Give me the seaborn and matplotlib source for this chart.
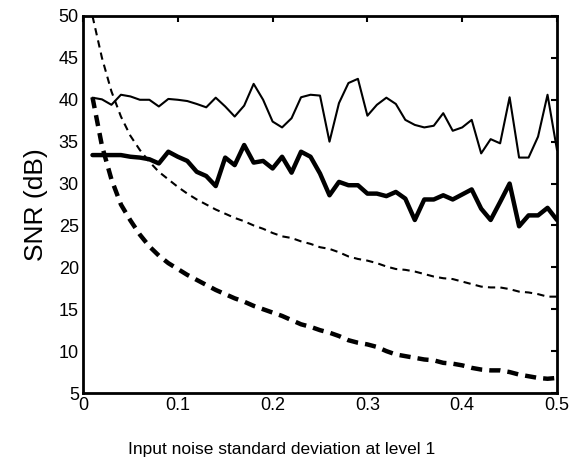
import numpy as np
import pandas as pd
import matplotlib
matplotlib.use('Agg')
import matplotlib.pyplot as plt
import seaborn as sns

# noise levels (x axis)
noise_std = [round(0.01 * i, 2) for i in range(1, 51)]

# thin solid curve
snr_thin_solid = [40.25, 40.05, 39.4, 40.6, 40.4, 40.0, 40.0, 39.2, 40.1, 40.0,
                  39.85, 39.5, 39.1, 40.25, 39.2, 38.0, 39.3, 41.9, 40.0, 37.4,
                  36.7, 37.8, 40.3, 40.6, 40.5, 35.0, 39.6, 42.0, 42.5, 38.1,
                  39.4, 40.25, 39.5, 37.6, 37.0, 36.7, 36.9, 38.4, 36.3, 36.7,
                  37.6, 33.6, 35.3, 34.8, 40.3, 33.1, 33.1, 35.6, 40.6, 34.0]

# thick solid curve
snr_thick_solid = [33.4, 33.4, 33.4, 33.4, 33.2, 33.1, 32.9, 32.4, 33.8, 33.2,
                   32.7, 31.4, 30.9, 29.7, 33.1, 32.2, 34.6, 32.5, 32.7, 31.8,
                   33.2, 31.3, 33.8, 33.2, 31.2, 28.6, 30.2, 29.8, 29.8, 28.8,
                   28.8, 28.5, 29.0, 28.2, 25.65, 28.1, 28.1, 28.6, 28.1, 28.7,
                   29.3, 27.0, 25.65, 27.8, 30.0, 24.9, 26.2, 26.2, 27.1, 25.65]

# thin dashed curve
snr_thin_dashed = [50.0, 45.0, 41.0, 38.0, 35.7, 34.0, 32.6, 31.4, 30.5, 29.6,
                   28.8, 28.1, 27.5, 26.9, 26.4, 25.9, 25.5, 25.0, 24.6, 24.1,
                   23.7, 23.5, 23.1, 22.8, 22.4, 22.2, 21.8, 21.3, 21.0, 20.8,
                   20.5, 20.1, 19.8, 19.7, 19.5, 19.2, 18.9, 18.7, 18.6, 18.3,
                   18.0, 17.7, 17.6, 17.6, 17.4, 17.1, 17.0, 16.8, 16.5, 16.5]

# thick dashed curve
snr_thick_dashed = [40.3, 34.5, 30.5, 27.5, 25.6, 23.9, 22.5, 21.4, 20.5, 19.8,
                    19.1, 18.5, 17.9, 17.3, 16.8, 16.3, 15.9, 15.4, 15.0, 14.6,
                    14.2, 13.7, 13.2, 12.9, 12.5, 12.2, 11.8, 11.3, 11.0, 10.8,
                    10.5, 10.0, 9.6, 9.4, 9.2, 9.0, 8.9, 8.6, 8.5, 8.3,
                    8.0, 7.8, 7.7, 7.7, 7.5, 7.2, 7.0, 6.8, 6.7, 6.8]

x_ticks = [0, 0.1, 0.2, 0.3, 0.4, 0.5]
x_tick_labels = ['0', '0.1', '0.2', '0.3', '0.4', '0.5']
y_ticks = [5, 10, 15, 20, 25, 30, 35, 40, 45, 50]

sns.set_style('white')
plt.rcParams['font.family'] = ['Liberation Sans', 'DejaVu Sans']
plt.rcParams['text.color'] = 'black'
plt.rcParams['axes.labelcolor'] = 'black'

df = pd.DataFrame({
    'noise': noise_std,
    'thin_solid': snr_thin_solid,
    'thick_solid': snr_thick_solid,
    'thin_dashed': snr_thin_dashed,
    'thick_dashed': snr_thick_dashed,
})

fig = plt.figure(figsize=(5.74, 4.61), dpi=100)
ax = fig.add_axes([0.1446, 0.1475, 0.8258, 0.8178])

sns.lineplot(data=df, x='noise', y='thin_solid', ax=ax, color='black', lw=1.5)
sns.lineplot(data=df, x='noise', y='thick_solid', ax=ax, color='black', lw=3.2)
sns.lineplot(data=df, x='noise', y='thin_dashed', ax=ax, color='black', lw=1.5,
             linestyle=(0, (3.5, 2.5)))
sns.lineplot(data=df, x='noise', y='thick_dashed', ax=ax, color='black', lw=3.2,
             linestyle=(0, (2.5, 1.6)))

ax.set_xlim(0, 0.5)
ax.set_ylim(5, 50)
ax.set_xticks(x_ticks)
ax.set_xticklabels(x_tick_labels)
ax.set_yticks(y_ticks)
ax.tick_params(direction='in', length=4, width=1.5, top=True, right=True,
               labelsize=13, colors='black', pad=3)
for s in ax.spines.values():
    s.set_linewidth(2)
    s.set_color('black')

ax.set_xlabel('Input noise standard deviation at level 1', fontsize=12.5,
              labelpad=20)
ax.xaxis.label.set_x(0.42)
ax.set_ylabel('SNR (dB)', fontsize=19, labelpad=8)

fig.savefig('out.png', dpi=100)
